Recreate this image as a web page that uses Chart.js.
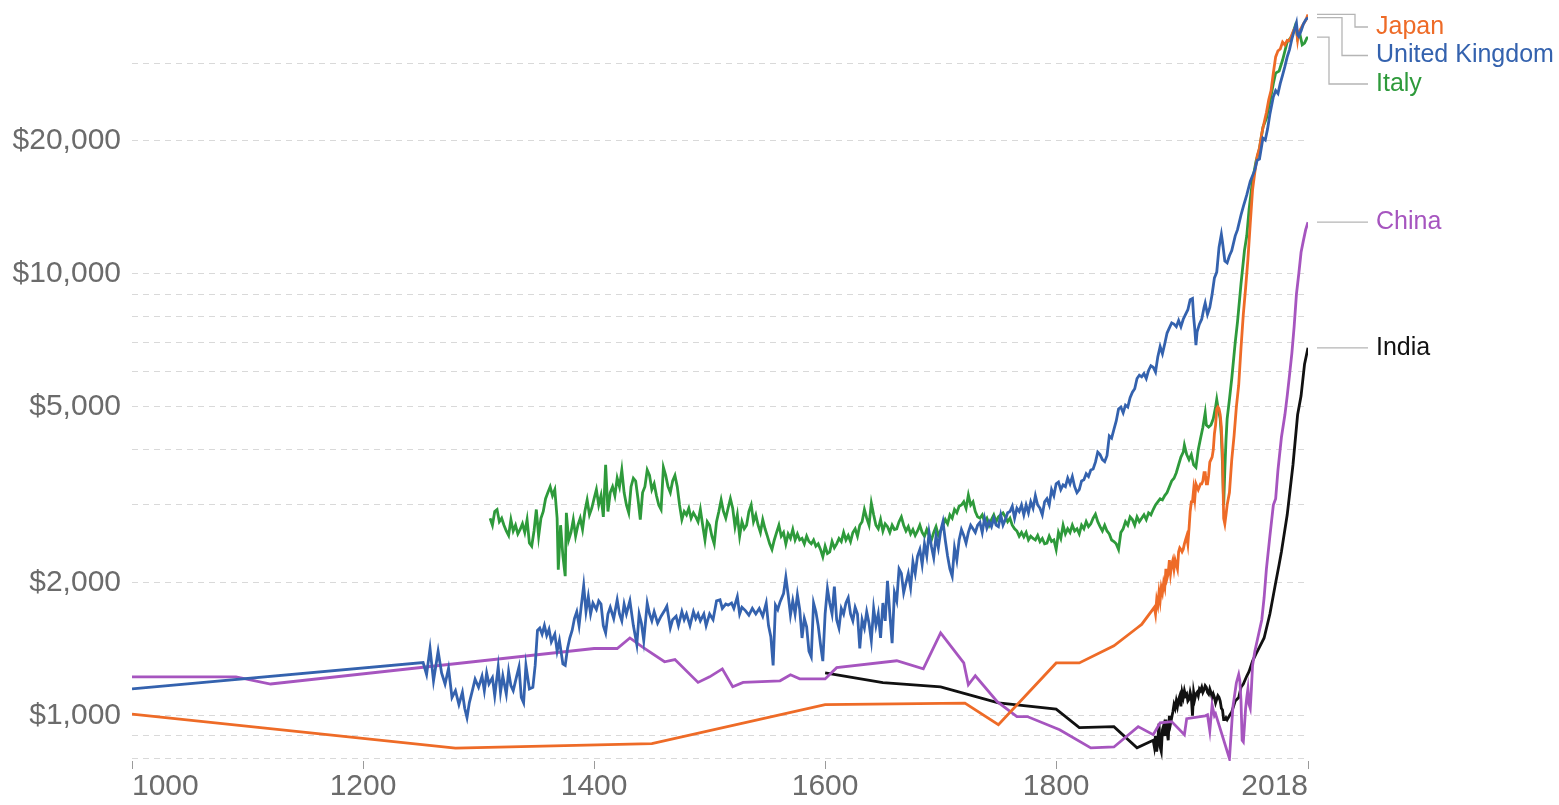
<!DOCTYPE html>
<html>
<head>
<meta charset="utf-8">
<script src="https://cdn.jsdelivr.net/npm/chart.js@4.4.1/dist/chart.umd.min.js"></script>
<style>
  html, body { margin: 0; padding: 0; background: #ffffff; }
  #wrap { width: 1559px; height: 805px; position: relative; }
</style>
</head>
<body>
<div id="wrap"><canvas id="gdpChart" width="1559" height="805"></canvas></div>
<script>
// GDP per capita (2011 int.$): [year, value]
var ukPoints = [
  [1000,1151],[1252,1320],[1255,1240],[1258,1420],[1261,1200],[1265,1400],[1268,1250],[1271,1180],[1274,1280],[1277,1100],
  [1280,1140],[1283,1060],[1286,1130],[1288,1040],[1290,990],[1292,1070],[1295,1150],[1297,1210],[1300,1160],[1303,1230],
  [1305,1140],[1307,1250],[1309,1180],[1312,1220],[1314,1110],[1317,1290],[1319,1130],[1321,1230],[1324,1120],[1326,1260],
  [1328,1170],[1330,1140],[1333,1230],[1335,1290],[1337,1100],[1339,1070],[1341,1300],[1344,1150],[1347,1160],[1349,1300],
  [1351,1560],[1353,1580],[1355,1530],[1357,1600],[1359,1520],[1361,1570],[1363,1470],[1366,1530],[1368,1400],[1370,1480],
  [1373,1310],[1375,1300],[1377,1420],[1379,1500],[1381,1560],[1383,1660],[1385,1720],[1387,1600],[1389,1780],[1391,1970],
  [1393,1720],[1395,1860],[1397,1700],[1399,1800],[1402,1740],[1404,1820],[1406,1790],[1408,1600],[1410,1540],[1412,1700],
  [1414,1760],[1417,1660],[1420,1830],[1422,1700],[1424,1640],[1426,1790],[1428,1700],[1431,1820],[1434,1600],[1437,1450],
  [1439,1700],[1441,1620],[1443,1480],[1446,1800],[1448,1700],[1450,1640],[1452,1720],[1455,1620],[1458,1680],[1461,1730],
  [1463,1770],[1466,1580],[1468,1650],[1471,1680],[1473,1600],[1476,1720],[1478,1650],[1480,1700],[1483,1600],[1486,1720],
  [1488,1660],[1490,1700],[1492,1640],[1495,1700],[1497,1600],[1500,1700],[1503,1650],[1506,1820],[1509,1830],[1511,1750],
  [1514,1790],[1516,1780],[1519,1800],[1521,1750],[1524,1860],[1526,1700],[1528,1760],[1531,1730],[1534,1690],[1537,1750],
  [1540,1700],[1543,1750],[1546,1680],[1549,1800],[1551,1600],[1553,1510],[1555,1300],[1557,1780],[1559,1740],[1561,1810],
  [1564,1890],[1566,2060],[1568,1880],[1570,1690],[1572,1820],[1574,1700],[1576,1880],[1578,1740],[1580,1500],[1582,1660],
  [1584,1590],[1586,1400],[1588,1360],[1590,1800],[1592,1720],[1594,1600],[1596,1450],[1598,1330],[1600,1700],[1602,1940],
  [1604,1800],[1606,1700],[1608,1960],[1610,1650],[1612,1580],[1614,1750],[1616,1700],[1618,1800],[1620,1850],[1622,1700],
  [1624,1640],[1626,1760],[1628,1700],[1630,1420],[1632,1650],[1634,1580],[1636,1720],[1638,1620],[1640,1480],[1642,1750],
  [1644,1600],[1646,1700],[1648,1500],[1650,1800],[1652,1640],[1654,2020],[1656,1700],[1658,1460],[1660,1900],[1662,1820],
  [1664,2150],[1666,2100],[1668,1900],[1670,2000],[1672,2100],[1674,1950],[1676,2230],[1678,2100],[1680,2300],[1682,2380],
  [1684,2200],[1686,2450],[1688,2300],[1690,2600],[1692,2420],[1694,2280],[1696,2550],[1698,2400],[1700,2620],[1702,2750],
  [1704,2500],[1706,2300],[1708,2150],[1710,2070],[1712,2400],[1714,2250],[1716,2500],[1718,2640],[1720,2560],[1722,2460],
  [1724,2600],[1726,2700],[1728,2650],[1730,2600],[1732,2700],[1734,2740],[1736,2600],[1738,2800],[1740,2660],[1742,2750],
  [1744,2680],[1746,2800],[1748,2700],[1750,2680],[1752,2850],[1754,2700],[1756,2780],[1758,2880],[1760,2900],[1762,2980],
  [1764,2800],[1766,2950],[1768,2900],[1770,3000],[1772,2850],[1774,3000],[1776,2880],[1778,3050],[1780,2950],[1782,3150],
  [1784,3000],[1786,2950],[1788,2850],[1790,3050],[1792,3100],[1794,3000],[1796,3250],[1798,3150],[1800,3350],[1802,3380],
  [1804,3250],[1806,3330],[1808,3300],[1810,3450],[1812,3350],[1814,3480],[1816,3300],[1818,3200],[1820,3250],[1822,3400],
  [1824,3420],[1826,3530],[1828,3480],[1830,3600],[1832,3620],[1834,3750],[1836,3950],[1838,3900],[1840,3800],[1842,3760],
  [1844,3880],[1846,4300],[1848,4250],[1850,4450],[1852,4650],[1854,4950],[1856,5000],[1858,4850],[1860,5050],[1862,5000],
  [1864,5250],[1866,5400],[1868,5500],[1870,5800],[1872,5900],[1874,5850],[1876,5950],[1878,5800],[1880,6050],[1882,6200],
  [1884,6150],[1886,6000],[1888,6500],[1890,6850],[1892,6600],[1894,6950],[1896,7350],[1898,7550],[1900,7750],[1902,7700],
  [1904,7600],[1906,7850],[1908,7600],[1910,7900],[1912,8100],[1914,8300],[1916,8750],[1918,8800],[1919,8000],[1920,7500],
  [1921,6900],[1922,7400],[1924,7700],[1926,7900],[1928,8400],[1929,8600],[1931,8100],[1933,8400],[1935,9000],[1937,9800],
  [1939,10100],[1941,11500],[1943,12300],[1944,11800],[1946,10700],[1948,10600],[1950,11000],[1952,11300],[1955,12200],[1957,12600],
  [1960,13600],[1962,14200],[1965,15100],[1968,16200],[1972,17200],[1974,18100],[1976,18200],[1979,20300],[1981,20100],[1983,21300],
  [1985,23000],[1988,25200],[1990,26000],[1992,25600],[1994,27000],[1996,28200],[1998,29500],[2000,31000],[2002,32200],[2004,34000],
  [2006,35500],[2008,37000],[2009,34800],[2010,34500],[2012,35500],[2014,36800],[2016,37600],[2018,38058]
];

var japanPoints = [
  [1000,1009],[1280,845],[1450,865],[1600,1060],[1721,1068],[1750,955],[1800,1317],[1820,1317],[1850,1440],[1870,1580],
  [1874,1610],[1885,1760],[1886,1700],[1887,1830],[1888,1780],[1889,1900],[1890,1820],[1891,1950],[1892,1900],[1893,2000],
  [1894,1950],[1895,2150],[1896,2050],[1897,2100],[1898,2250],[1899,2100],[1900,2200],[1901,2250],[1902,2150],[1903,2250],
  [1904,2200],[1905,2150],[1906,2350],[1907,2400],[1908,2380],[1909,2350],[1910,2380],[1911,2450],[1912,2500],[1913,2550],
  [1914,2450],[1915,2650],[1916,2900],[1917,3050],[1918,3050],[1919,3250],[1920,3100],[1921,3350],[1922,3300],[1923,3250],
  [1924,3300],[1925,3350],[1926,3350],[1927,3400],[1928,3550],[1929,3550],[1930,3350],[1931,3350],[1932,3500],[1933,3750],
  [1934,3800],[1935,3850],[1936,4000],[1937,4350],[1938,4550],[1939,4950],[1940,5000],[1941,4950],[1942,4800],[1943,4500],
  [1944,3900],[1945,2800],[1946,2720],[1947,2850],[1948,3000],[1949,3100],[1950,3200],[1952,3800],[1954,4300],[1956,5000],
  [1958,5600],[1960,6800],[1962,8100],[1964,9300],[1966,10800],[1968,13000],[1970,15500],[1972,17000],[1974,18500],[1976,19300],
  [1978,20800],[1980,22000],[1982,23200],[1984,24800],[1986,26000],[1988,28500],[1990,31000],[1992,32000],[1994,32300],[1996,33500],
  [1998,33000],[2000,33800],[2002,33700],[2004,34800],[2006,35800],[2008,35800],[2009,33900],[2010,35300],[2012,36000],[2014,36800],
  [2016,37500],[2018,38674]
];

var italyPoints = [
  [1310,2800],[1312,2700],[1314,2900],[1316,2930],[1318,2750],[1320,2800],[1322,2700],[1324,2620],[1326,2560],[1328,2780],
  [1330,2620],[1332,2700],[1334,2580],[1336,2640],[1338,2720],[1340,2600],[1342,2780],[1344,2460],[1346,2420],[1348,2620],
  [1350,2930],[1352,2550],[1354,2800],[1356,2900],[1358,3100],[1360,3200],[1362,3300],[1364,3150],[1366,3250],[1368,2800],
  [1369,2140],[1371,2700],[1373,2300],[1375,2070],[1376,2880],[1378,2500],[1380,2600],[1382,2780],[1384,2550],[1386,2700],
  [1388,2800],[1390,2640],[1392,2900],[1394,3080],[1396,2850],[1398,2950],[1400,3100],[1402,3250],[1404,3000],[1406,3150],
  [1408,2820],[1410,3700],[1412,2900],[1414,3200],[1416,3300],[1418,3150],[1420,3450],[1422,3300],[1424,3600],[1426,3200],
  [1428,3000],[1430,2880],[1432,3300],[1434,3450],[1436,3400],[1438,3100],[1440,2780],[1442,3200],[1444,3300],[1446,3600],
  [1448,3500],[1450,3250],[1452,3350],[1454,3150],[1456,3000],[1458,2930],[1460,3650],[1462,3500],[1464,3300],[1466,3200],
  [1468,3400],[1470,3500],[1472,3300],[1474,3000],[1476,2780],[1478,2900],[1480,2850],[1482,2950],[1484,2800],[1486,2880],
  [1488,2820],[1490,2750],[1492,2930],[1494,2700],[1496,2500],[1498,2750],[1500,2700],[1502,2550],[1504,2450],[1506,2750],
  [1508,2900],[1510,3080],[1512,2900],[1514,2800],[1516,2950],[1518,3100],[1520,2950],[1522,2680],[1524,2850],[1526,2550],
  [1528,2750],[1530,2650],[1532,2700],[1534,2900],[1536,3000],[1538,2750],[1540,2850],[1542,2700],[1544,2600],[1546,2780],
  [1548,2650],[1550,2550],[1552,2450],[1554,2380],[1556,2500],[1558,2600],[1560,2700],[1562,2550],[1564,2600],[1566,2450],
  [1568,2580],[1570,2520],[1572,2640],[1574,2500],[1576,2580],[1578,2500],[1580,2520],[1582,2450],[1584,2550],[1586,2480],
  [1588,2450],[1590,2500],[1592,2420],[1594,2450],[1596,2380],[1598,2290],[1600,2420],[1602,2330],[1604,2350],[1606,2480],
  [1608,2400],[1610,2450],[1612,2520],[1614,2480],[1616,2600],[1618,2500],[1620,2560],[1622,2480],[1624,2600],[1626,2650],
  [1628,2550],[1630,2700],[1632,2750],[1634,2930],[1636,2800],[1638,2700],[1640,3030],[1642,2850],[1644,2700],[1646,2650],
  [1648,2780],[1650,2620],[1652,2720],[1654,2680],[1656,2600],[1658,2700],[1660,2640],[1662,2650],[1664,2750],[1666,2820],
  [1668,2700],[1670,2620],[1672,2680],[1674,2580],[1676,2640],[1678,2560],[1680,2620],[1682,2700],[1684,2600],[1686,2550],
  [1688,2640],[1690,2560],[1692,2500],[1694,2600],[1696,2680],[1698,2560],[1700,2620],[1702,2700],[1704,2780],[1706,2720],
  [1708,2850],[1710,2800],[1712,2930],[1714,2880],[1716,2980],[1718,3000],[1720,3050],[1722,2950],[1724,3160],[1726,3000],
  [1728,3050],[1730,2900],[1732,2820],[1734,2800],[1736,2850],[1738,2750],[1740,2800],[1742,2700],[1744,2780],[1746,2850],
  [1748,2750],[1750,2820],[1752,2850],[1754,2880],[1756,2820],[1758,2750],[1760,2800],[1762,2700],[1764,2650],[1766,2620],
  [1768,2550],[1770,2600],[1772,2540],[1774,2600],[1776,2500],[1778,2550],[1780,2520],[1782,2500],[1784,2560],[1786,2480],
  [1788,2520],[1790,2450],[1792,2460],[1794,2550],[1796,2480],[1798,2500],[1800,2380],[1802,2600],[1804,2520],[1806,2700],
  [1808,2580],[1810,2650],[1812,2600],[1814,2700],[1816,2620],[1818,2650],[1820,2580],[1822,2700],[1824,2650],[1826,2750],
  [1828,2680],[1830,2720],[1832,2800],[1834,2860],[1836,2750],[1838,2680],[1840,2620],[1842,2700],[1844,2620],[1846,2580],
  [1848,2500],[1850,2480],[1852,2450],[1854,2380],[1856,2600],[1858,2650],[1860,2750],[1862,2700],[1864,2820],[1866,2780],
  [1868,2700],[1870,2820],[1872,2750],[1874,2800],[1876,2850],[1878,2780],[1880,2880],[1882,2850],[1884,2930],[1886,3000],
  [1888,3050],[1890,3100],[1892,3080],[1894,3150],[1896,3200],[1898,3300],[1900,3400],[1902,3450],[1904,3550],[1906,3700],
  [1908,3850],[1910,3950],[1911,4100],[1913,3900],[1915,3800],[1917,3900],[1919,3700],[1921,3650],[1923,4000],[1925,4250],
  [1927,4500],[1929,4850],[1930,4550],[1932,4500],[1934,4550],[1936,4700],[1938,5000],[1939,5200],[1940,5000],[1942,4700],
  [1943,4300],[1944,3700],[1945,3000],[1946,3600],[1947,4200],[1948,4700],[1950,5200],[1952,5800],[1955,7000],[1957,7800],
  [1960,9500],[1963,11300],[1965,12200],[1967,14000],[1970,16300],[1973,18000],[1976,19200],[1979,21500],[1982,22500],[1985,24500],
  [1988,27000],[1990,28500],[1993,28800],[1996,30500],[2000,33500],[2004,34500],[2007,36500],[2008,35800],[2009,34200],[2011,34900],
  [2013,33000],[2015,33300],[2017,34200],[2018,34364]
];

var chinaPoints = [
  [1000,1225],[1090,1225],[1120,1180],[1400,1420],[1420,1420],[1431,1500],[1442,1430],[1461,1325],[1470,1340],[1490,1190],
  [1500,1225],[1511,1277],[1520,1163],[1529,1190],[1561,1200],[1570,1238],[1578,1212],[1600,1212],[1610,1285],[1662,1332],
  [1685,1277],[1700,1540],[1720,1318],[1724,1175],[1730,1232],[1749,1076],[1766,996],[1775,996],[1803,930],[1830,846],
  [1850,850],[1871,945],[1884,906],[1890,964],[1900,970],[1911,906],[1913,985],[1929,1000],[1931,1005],[1933,925],
  [1935,1058],[1937,1000],[1938,1010],[1950,800],[1953,1048],[1956,1188],[1958,1240],[1959,1200],[1960,1080],[1961,880],
  [1962,873],[1963,950],[1964,1040],[1965,1100],[1966,1150],[1967,1060],[1968,1040],[1969,1150],[1970,1300],[1972,1400],
  [1975,1520],[1978,1650],[1980,1850],[1982,2150],[1985,2550],[1988,3000],[1990,3100],[1992,3600],[1995,4270],[1998,4800],
  [2000,5300],[2002,5900],[2004,6600],[2006,7600],[2008,9000],[2010,10000],[2012,11200],[2014,11900],[2016,12600],[2018,13102]
];

var indiaPoints = [
  [1600,1250],[1650,1188],[1700,1163],[1750,1070],[1800,1035],[1820,940],[1850,945],[1870,846],[1884,880],[1885,850],
  [1886,900],[1887,830],[1888,880],[1889,960],[1890,850],[1891,830],[1892,930],[1893,950],[1894,900],[1895,980],
  [1896,920],[1897,880],[1898,1000],[1899,960],[1900,990],[1901,1020],[1902,1060],[1903,1040],[1904,1080],[1905,1050],
  [1906,1090],[1907,1110],[1908,1050],[1909,1130],[1910,1100],[1911,1140],[1912,1110],[1913,1120],[1914,1080],[1915,1090],
  [1916,1130],[1917,1100],[1918,1000],[1919,1130],[1920,1090],[1921,1120],[1922,1130],[1923,1110],[1924,1150],[1925,1140],
  [1926,1160],[1927,1130],[1928,1145],[1929,1170],[1930,1160],[1931,1130],[1932,1120],[1933,1150],[1934,1130],[1935,1100],
  [1936,1120],[1937,1100],[1938,1070],[1939,1090],[1940,1110],[1941,1100],[1942,1080],[1943,1040],[1944,1030],[1945,980],
  [1946,980],[1947,990],[1948,980],[1950,1000],[1952,1020],[1955,1080],[1958,1100],[1960,1160],[1962,1180],[1965,1230],
  [1967,1260],[1970,1330],[1973,1380],[1976,1430],[1980,1500],[1985,1700],[1990,2000],[1993,2200],[1995,2350],[2000,2850],
  [2005,3700],[2009,4800],[2012,5300],[2015,6250],[2018,6806]
];

var countryNames = ['United Kingdom', 'Japan', 'China', 'India', 'Italy'];
var countryColors = ['#3462ae', '#ee6b27', '#a655bf', '#111111', '#2e9a3b'];
var countrySeries = [ukPoints, japanPoints, chinaPoints, indiaPoints, italyPoints];

var yearTicks = [1000, 1200, 1400, 1600, 1800, 2018];
var gridValues = [800, 900, 1000, 2000, 3000, 4000, 5000, 6000, 7000, 8000, 9000, 10000, 20000, 30000];
var labelledValues = [1000, 2000, 5000, 10000, 20000];

var fontFamily = '"Liberation Sans", Arial, sans-serif';
var axisGrey = '#6b6b6b';

// labels at the end of each line, pushed apart when they collide
var endLabels = {
    id: 'endLabels',
    afterDatasetsDraw: function (chart) {
        var ctx = chart.ctx;
        var xs = chart.scales.x, ys = chart.scales.y;
        var area = chart.chartArea;
        var items = chart.data.datasets.map(function (ds) {
            var last = ds.data[ds.data.length - 1];
            return { name: ds.label, color: ds.borderColor, y: ys.getPixelForValue(last.y), x: xs.getPixelForValue(last.x) };
        }).sort(function (a, b) { return a.y - b.y; });

        var prev = -Infinity;
        items.forEach(function (it) {
            it.ly = Math.max(it.y, prev + 28.5, area.top + 19);
            prev = it.ly;
        });

        var startX = area.right + 9;
        var endX = area.right + 60;
        var textX = area.right + 68;
        var moved = 0;
        ctx.save();
        items.forEach(function (it) {
            ctx.beginPath();
            ctx.strokeStyle = '#b5b5b5';
            ctx.lineWidth = 1.3;
            ctx.moveTo(startX, it.y);
            if (Math.abs(it.ly - it.y) > 1) {
                var elbow = area.right + 47 - moved * 13;
                moved++;
                ctx.lineTo(elbow, it.y);
                ctx.lineTo(elbow, it.ly);
            }
            ctx.lineTo(endX, it.ly);
            ctx.stroke();

            ctx.font = '25px ' + fontFamily;
            ctx.fillStyle = it.color;
            ctx.textAlign = 'left';
            ctx.textBaseline = 'middle';
            ctx.fillText(it.name, textX, it.ly);
        });
        ctx.restore();
    }
};

var datasets = countrySeries.map(function (pts, i) {
    return {
        label: countryNames[i],
        data: pts.map(function (p) { return { x: p[0], y: p[1] }; }),
        borderColor: countryColors[i],
        backgroundColor: countryColors[i],
        borderWidth: 2.8,
        pointRadius: 0,
        tension: 0,
        fill: false
    };
});

var ctx = document.getElementById('gdpChart').getContext('2d');
var chart = new Chart(ctx, {
    type: 'line',
    data: { datasets: datasets },
    options: {
        responsive: false,
        animation: false,
        parsing: false,
        layout: { padding: { top: 8, right: 251, bottom: 0, left: 0 } },
        plugins: {
            legend: { display: false },
            tooltip: { enabled: false }
        },
        scales: {
            x: {
                type: 'linear',
                min: 1000,
                max: 2018,
                afterBuildTicks: function (scale) {
                    scale.ticks = yearTicks.map(function (v) { return { value: v }; });
                },
                afterFit: function (scale) {
                    scale.height = 44;
                    scale.paddingLeft = 0;
                    scale.paddingRight = 0;
                },
                border: { display: false },
                grid: {
                    drawOnChartArea: false,
                    drawTicks: true,
                    tickLength: 8,
                    color: '#9a9a9a',
                    lineWidth: 1
                },
                ticks: {
                    autoSkip: false,
                    maxRotation: 0,
                    align: 'inner',
                    padding: 0,
                    color: axisGrey,
                    font: { family: fontFamily, size: 30 },
                    callback: function (v) { return String(v); }
                }
            },
            y: {
                type: 'logarithmic',
                min: 790,
                max: 40000,
                afterBuildTicks: function (scale) {
                    scale.ticks = gridValues.map(function (v) { return { value: v }; });
                },
                afterFit: function (scale) {
                    scale.width = 132;
                    scale.paddingTop = 0;
                    scale.paddingBottom = 0;
                },
                border: { display: false, dash: [6, 5] },
                grid: {
                    drawTicks: false,
                    color: '#d9d9d9',
                    lineWidth: 1
                },
                ticks: {
                    autoSkip: false,
                    padding: 11,
                    color: axisGrey,
                    font: { family: fontFamily, size: 30 },
                    callback: function (v) {
                        return labelledValues.indexOf(v) >= 0 ? '$' + v.toLocaleString('en-US') : '';
                    }
                }
            }
        }
    },
    plugins: [endLabels]
});
</script>
</body>
</html>
